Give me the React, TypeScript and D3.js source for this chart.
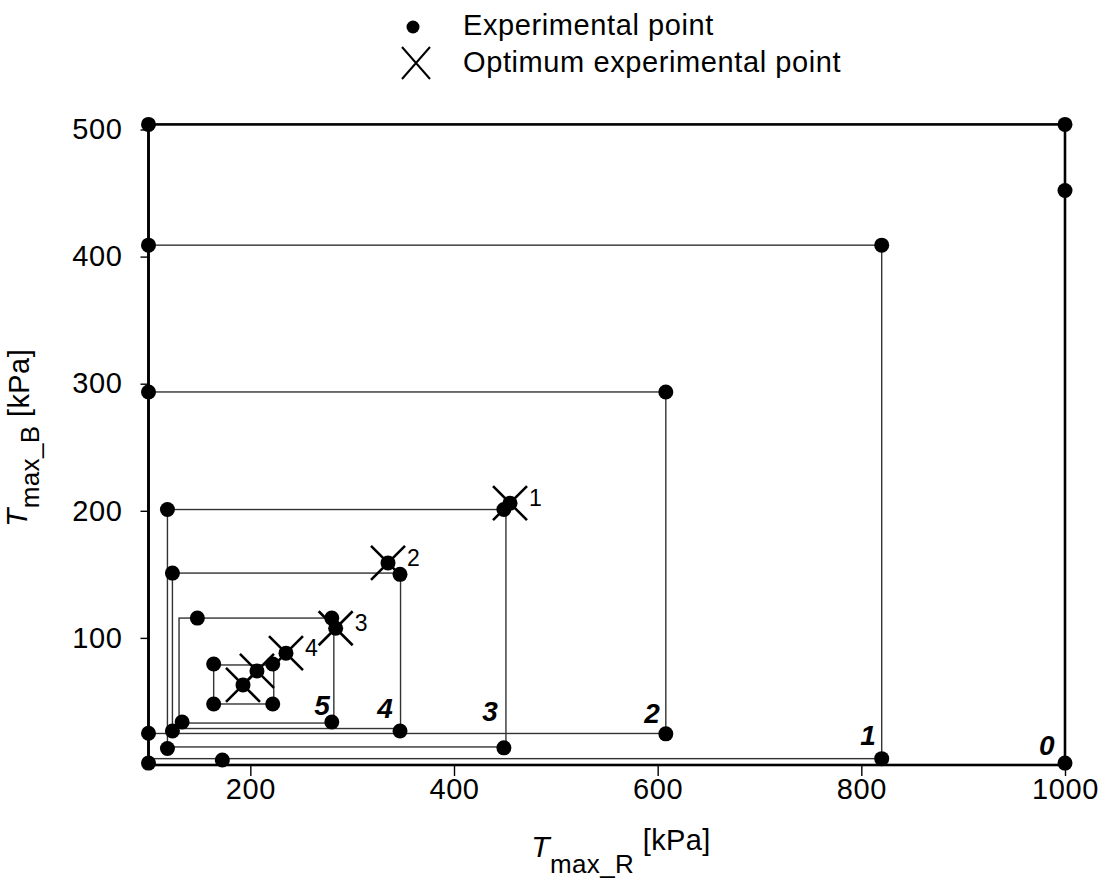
import { useEffect, useRef } from 'react'
import * as d3 from 'd3'

// search rectangles (iteration 0 .. 6), in kPa
const RECT_LEFT = [100, 100, 100, 118.6, 123.5, 130, 164]
const RECT_RIGHT = [1000, 820, 608, 451, 347.5, 282, 223]
const RECT_BOTTOM = [0, 5, 24.8, 14.2, 28.7, 33, 48]
const RECT_TOP = [504, 409, 293.5, 201, 151, 115.6, 78.7]

// experimental points
const EXP_R = [
  100, 1000, 1000, 1000, 100,
  100, 820, 820,
  100, 608, 608, 100,
  118.6, 449, 449, 118.6,
  123.5, 347, 347, 123.5,
  148, 280, 280, 133,
  164, 222, 164, 222,
  172.5,
]
const EXP_B = [
  504, 504, 452, 1.5, 1.5,
  409, 409, 5,
  293.5, 293.5, 24.5, 25,
  201, 201, 13.5, 13,
  151, 150, 26.7, 26.7,
  115.6, 115.6, 33.8, 33.8,
  79.5, 79.5, 48, 48,
  3.9,
]

// optimum experimental points
const OPT_R = [455, 335.2, 283.8, 235, 206.5, 192.8]
const OPT_B = [206, 159, 107.6, 88, 74, 63]
const OPT_LABELS = ['1', '2', '3', '4', '', '']

// iteration numbers written inside each rectangle
const ITER_LABELS = ['0', '1', '2', '3', '4', '5']
const ITER_R = [982, 806.6, 594.4, 435.3, 332.2, 270.4]
const ITER_B = [15.7, 23.6, 40.9, 42.5, 44.8, 47.2]

const X_TICKS = [200, 400, 600, 800, 1000]
const Y_TICKS = [100, 200, 300, 400, 500]

const FONT = '"Liberation Sans", Arial, sans-serif'

export default function App() {
  const svgRef = useRef<SVGSVGElement>(null)

  useEffect(() => {
    if (!svgRef.current) return
    const svg = d3.select(svgRef.current)
    svg.selectAll('*').remove()

    const x = d3.scaleLinear().domain([100, 1000]).range([148.5, 1065])
    const y = d3.scaleLinear().domain([0, 500]).range([765, 129.5])

    const xMark = (g: any, cx: number, cy: number, dx: number, dy: number, w: number) => {
      g.append('path')
        .attr('d', `M${cx - dx},${cy - dy}L${cx + dx},${cy + dy}M${cx - dx},${cy + dy}L${cx + dx},${cy - dy}`)
        .attr('stroke', '#000')
        .attr('stroke-width', w)
        .attr('fill', 'none')
    }

    // rectangles
    const rects = svg.append('g')
    RECT_LEFT.forEach((l, i) => {
      rects.append('rect')
        .attr('x', x(l))
        .attr('y', y(RECT_TOP[i]))
        .attr('width', x(RECT_RIGHT[i]) - x(l))
        .attr('height', y(RECT_BOTTOM[i]) - y(RECT_TOP[i]))
        .attr('fill', 'none')
        .attr('stroke', i === 0 ? '#000' : '#333')
        .attr('stroke-width', i === 0 ? 2.6 : 1.4)
    })

    // axes
    const xAxis = svg.append('g')
      .attr('transform', `translate(0,${y(0)})`)
      .call(d3.axisBottom(x).tickValues(X_TICKS).tickSize(11).tickPadding(2).tickFormat(d3.format('d')))
    xAxis.select('.domain').remove()
    xAxis.selectAll('line').attr('stroke', '#000').attr('stroke-width', 1.4)
    xAxis.selectAll('text')
      .attr('font-size', 29)
      .attr('letter-spacing', 0.6)
      .attr('font-family', FONT)
      .attr('fill', '#000')

    const yAxis = svg.append('g')
      .attr('transform', `translate(${x(100)},0)`)
      .call(d3.axisLeft(y).tickValues(Y_TICKS).tickSize(8).tickPadding(18).tickFormat(d3.format('d')))
    yAxis.select('.domain').remove()
    yAxis.selectAll('line').attr('stroke', '#000').attr('stroke-width', 1.4)
    yAxis.selectAll('text')
      .attr('font-size', 29)
      .attr('letter-spacing', 0.6)
      .attr('font-family', FONT)
      .attr('fill', '#000')

    // left axis line (thick)
    svg.append('line')
      .attr('x1', x(100)).attr('x2', x(100))
      .attr('y1', y(504)).attr('y2', y(0) + 1)
      .attr('stroke', '#000').attr('stroke-width', 2.6)

    // experimental points
    EXP_R.forEach((r, i) => {
      svg.append('circle')
        .attr('cx', x(r))
        .attr('cy', y(EXP_B[i]))
        .attr('r', 7.5)
        .attr('fill', '#000')
    })

    // optimum points
    OPT_R.forEach((r, i) => {
      const cx = x(r)
      const cy = y(OPT_B[i])
      svg.append('circle').attr('cx', cx).attr('cy', cy).attr('r', 7.5).attr('fill', '#000')
      xMark(svg, cx, cy, 17, 17, 2.6)
      if (OPT_LABELS[i]) {
        svg.append('text')
          .attr('x', cx + 19)
          .attr('y', cy + 3)
          .attr('font-size', 23)
          .attr('font-family', FONT)
          .attr('fill', '#000')
          .text(OPT_LABELS[i])
      }
    })

    // iteration numbers
    ITER_LABELS.forEach((t, i) => {
      svg.append('text')
        .attr('x', x(ITER_R[i]))
        .attr('y', y(ITER_B[i]))
        .attr('dy', '0.35em')
        .attr('text-anchor', 'middle')
        .attr('font-size', 28)
        .attr('font-weight', 700)
        .attr('font-style', 'italic')
        .attr('font-family', FONT)
        .attr('fill', '#000')
        .text(t)
    })

    // axis titles
    const xt = svg.append('text')
      .attr('x', 621)
      .attr('y', 857)
      .attr('text-anchor', 'middle')
      .attr('font-family', FONT)
      .attr('letter-spacing', 0.4)
      .attr('fill', '#000')
    xt.append('tspan').attr('font-size', 30).attr('font-style', 'italic').text('T')
    xt.append('tspan').attr('font-size', 26).attr('dy', 16).text('max_R')
    xt.append('tspan').attr('font-size', 29).attr('dy', -23).text(' [kPa]')

    const yt = svg.append('text')
      .attr('transform', 'translate(27,438) rotate(-90)')
      .attr('text-anchor', 'middle')
      .attr('font-family', FONT)
      .attr('letter-spacing', 0.4)
      .attr('fill', '#000')
    yt.append('tspan').attr('font-size', 30).attr('font-style', 'italic').text('T')
    yt.append('tspan').attr('font-size', 26).attr('dy', 12).text('max_B')
    yt.append('tspan').attr('font-size', 29).attr('dy', -10).text(' [kPa]')

    // legend
    svg.append('circle').attr('cx', 413).attr('cy', 27).attr('r', 6.5).attr('fill', '#000')
    svg.append('text')
      .attr('x', 463).attr('y', 35)
      .attr('font-size', 29).attr('letter-spacing', 0.6).attr('font-family', FONT).attr('fill', '#000')
      .text('Experimental point')
    xMark(svg, 416, 63, 14, 16, 2)
    svg.append('text')
      .attr('x', 463).attr('y', 72)
      .attr('font-size', 29).attr('letter-spacing', 0.6).attr('font-family', FONT).attr('fill', '#000')
      .text('Optimum experimental point')
  }, [])

  return (
    <svg
      ref={svgRef}
      width={1106}
      height={888}
      style={{ position: 'absolute', left: 0, top: 0, background: '#fff' }}
    />
  )
}
